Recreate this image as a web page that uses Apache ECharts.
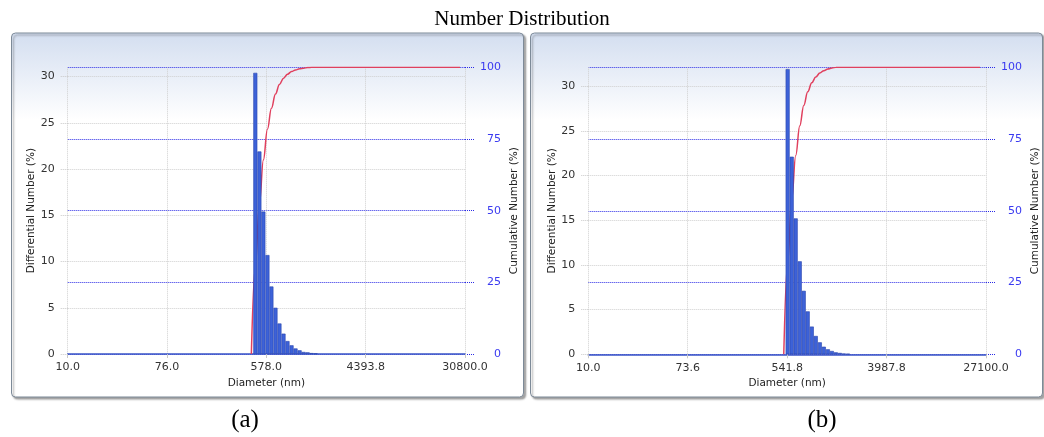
<!DOCTYPE html>
<html>
<head>
<meta charset="utf-8">
<script src="https://cdn.jsdelivr.net/npm/echarts@6/dist/echarts.min.js"></script>
<style>
html,body{margin:0;padding:0;background:#fff;}
#c{width:1044px;height:437px;}
</style>
</head>
<body>
<div id="c"></div>
<script>
// ---------- data ----------
const xTickLabelsA = ["10.0", "76.0", "578.0", "4393.8", "30800.0"];
const xTickLabelsB = ["10.0", "73.6", "541.8", "3987.8", "27100.0"];

// bin centres, in axis-tick units (0 = first tick, 4 = last tick)
const binPosA = [1.889, 1.930, 1.970, 2.011, 2.051, 2.092, 2.132, 2.173, 2.213, 2.254, 2.294, 2.335, 2.375, 2.416, 2.456, 2.497];
const diffA   = [30.4, 21.9, 15.4, 10.7, 7.3, 5.0, 3.3, 2.2, 1.4, 0.94, 0.6, 0.4, 0.22, 0.18, 0.1, 0.06];
const cumPosA = [1.849, 1.889, 1.930, 1.970, 2.011, 2.051, 2.092, 2.132, 2.173, 2.213, 2.254, 2.294, 2.335, 2.375, 2.416, 2.456, 2.497, 3.950];
const cumA    = [0, 30.4, 52.3, 67.7, 78.4, 85.7, 90.7, 94.0, 96.2, 97.6, 98.5, 99.1, 99.5, 99.7, 99.9, 100, 100, 100];

const binPosB = [2.005, 2.046, 2.086, 2.127, 2.167, 2.207, 2.248, 2.288, 2.329, 2.369, 2.410, 2.450, 2.490, 2.531, 2.571, 2.612];
const diffB   = [31.9, 22.1, 15.2, 10.4, 7.1, 4.8, 3.1, 2.05, 1.34, 0.85, 0.56, 0.37, 0.22, 0.15, 0.08, 0.05];
const cumPosB = [1.966, 2.005, 2.046, 2.086, 2.127, 2.167, 2.207, 2.248, 2.288, 2.329, 2.369, 2.410, 2.450, 2.490, 2.531, 2.571, 2.612, 3.940];
const cumB    = [0, 31.9, 54.0, 69.2, 79.6, 86.7, 91.5, 94.6, 96.65, 97.99, 98.84, 99.40, 99.77, 99.99, 100, 100, 100, 100];

const diffMaxA = 31.0, diffMaxB = 32.1;
const titleText = "Number Distribution";
const xName = "Diameter (nm)";
const yLeftName = "Differential Number (%)";
const yRightName = "Cumulative Number (%)";
const panelLabels = ["(a)", "(b)"];

// ---------- chart ----------
const FONT = "DejaVu Sans";
const zip = (xs, ys) => xs.map((x, i) => [x, ys[i]]);

function xAxisFor(gi, labels) {
  return {
    type: 'value', gridIndex: gi, min: 0, max: 4, interval: 1,
    axisLine: { show: true, onZero: false, lineStyle: { color: '#3a56c8', width: 1.5 } },
    axisTick: { show: true, length: 4, lineStyle: { color: '#c8c8c8' } },
    axisLabel: { color: '#333', fontFamily: FONT, fontSize: 11, margin: 8,
      formatter: v => { const i = Math.round(v); return Math.abs(v - i) < 1e-6 ? labels[i] : ''; } },
    splitLine: { show: true, lineStyle: { color: '#cfcfcf', type: [1, 1], width: 1 } },
    name: xName, nameLocation: 'middle', nameGap: 23,
    nameTextStyle: { color: '#222', fontFamily: FONT, fontSize: 10.5 }
  };
}
function yLeftFor(gi, max) {
  return {
    type: 'value', gridIndex: gi, min: 0, max: max, interval: 5, position: 'left',
    axisLine: { show: false },
    axisTick: { show: true, length: 8, lineStyle: { color: '#c8c8c8', type: [1, 1] } },
    axisLabel: { color: '#333', fontFamily: FONT, fontSize: 11, margin: 13, showMaxLabel: false,
      formatter: v => (Math.abs(v % 5) < 1e-6 ? String(v) : '') },
    splitLine: { show: true, showMaxLine: false, lineStyle: { color: '#cfcfcf', type: [1, 1], width: 1 } },
    name: yLeftName, nameLocation: 'middle', nameGap: 30, nameRotate: 90,
    nameTextStyle: { color: '#222', fontFamily: FONT, fontSize: 10.5 }
  };
}
function yRightFor(gi) {
  return {
    type: 'value', gridIndex: gi, min: 0, max: 100, interval: 25, position: 'right',
    axisLine: { show: false },
    axisTick: { show: true, inside: false, length: 10, lineStyle: { color: '#2a2ae6', type: [1, 1] } },
    axisLabel: { color: '#3a3af0', fontFamily: FONT, fontSize: 11, margin: 36, align: 'right' },
    splitLine: { show: true, lineStyle: { color: '#2a2ae6', type: [1, 1], width: 1 } },
    name: yRightName, nameLocation: 'middle', nameGap: 44, nameRotate: 90,
    nameTextStyle: { color: '#222', fontFamily: FONT, fontSize: 10.5 }
  };
}
function barSeries(xi, yi, pos, vals) {
  return {
    type: 'bar', xAxisIndex: xi, yAxisIndex: yi, data: zip(pos, vals),
    barWidth: 4, z: 3,
    itemStyle: { color: '#3d62d8', borderColor: '#2a45ad', borderWidth: 0.6 }
  };
}
function lineSeries(xi, yi, pos, vals) {
  return {
    type: 'line', xAxisIndex: xi, yAxisIndex: yi, data: zip(pos, vals),
    symbol: 'none', smooth: 0.4, smoothMonotone: 'x', z: 2,
    lineStyle: { color: '#e0405e', width: 1.5 }
  };
}

function panel(x) {
  return {
    type: 'rect', z: -10,
    shape: { x: x, y: 33, width: 512, height: 364, r: 4 },
    style: {
      fill: { type: 'linear', x: 0, y: 0, x2: 0, y2: 1,
        colorStops: [{ offset: 0, color: '#d3def0' }, { offset: 0.24, color: '#ffffff' }, { offset: 1, color: '#ffffff' }] },
      stroke: '#7d8a98', lineWidth: 1,
      shadowColor: 'rgba(0,0,0,0.35)', shadowBlur: 2, shadowOffsetX: 2, shadowOffsetY: 2
    }
  };
}

const chart = echarts.init(document.getElementById('c'), null, { renderer: 'canvas' });
chart.setOption({
  animation: false,
  backgroundColor: '#ffffff',
  grid: [
    { left: 67.7, top: 67.3, width: 397.3, height: 286.7 },
    { left: 588.3, top: 67.3, width: 397.7, height: 287 }
  ],
  xAxis: [xAxisFor(0, xTickLabelsA), xAxisFor(1, xTickLabelsB)],
  yAxis: [yLeftFor(0, diffMaxA), yRightFor(0), yLeftFor(1, diffMaxB), yRightFor(1)],
  series: [
    lineSeries(0, 1, cumPosA, cumA),
    barSeries(0, 0, binPosA, diffA),
    lineSeries(1, 3, cumPosB, cumB),
    barSeries(1, 2, binPosB, diffB)
  ],
  graphic: [
    panel(11.5), panel(530.5),
    { type: 'text', z: 10, x: 522, y: 19,
      style: { text: titleText, font: '21px "Liberation Serif"', fill: '#000', align: 'center', verticalAlign: 'middle' } },
    { type: 'text', z: 10, x: 245, y: 420,
      style: { text: panelLabels[0], font: '25px "Liberation Serif"', fill: '#000', align: 'center', verticalAlign: 'middle' } },
    { type: 'text', z: 10, x: 822, y: 420,
      style: { text: panelLabels[1], font: '25px "Liberation Serif"', fill: '#000', align: 'center', verticalAlign: 'middle' } }
  ]
});
</script>
</body>
</html>
